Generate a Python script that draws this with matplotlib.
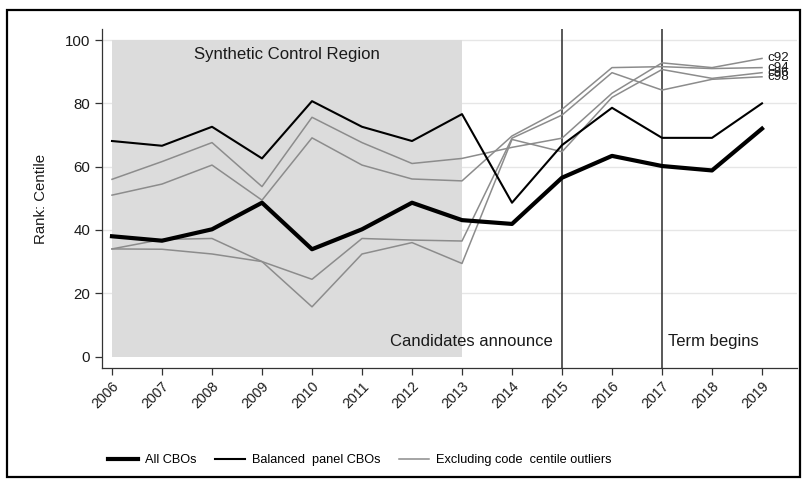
import matplotlib
matplotlib.use("Agg")
import matplotlib.pyplot as plt
from matplotlib.patches import Rectangle
from matplotlib.lines import Line2D

plt.rcParams['font.family'] = ['Liberation Sans', 'DejaVu Sans']

years = list(range(2006, 2020))

all_cbos = [38.0, 36.6, 40.2, 48.6, 33.9, 40.2, 48.6, 43.1, 41.9, 56.5, 63.4, 60.2, 58.8, 72.0]
balanced_cbos = [68.1, 66.6, 72.6, 62.6, 80.7, 72.6, 68.1, 76.6, 48.6, 66.8, 78.6, 69.1, 69.1, 80.0]

c92 = [56.0, 61.6, 67.6, 53.7, 75.6, 67.6, 61.0, 62.6, 66.1, 69.0, 83.2, 92.8, 91.3, 94.2]
c94 = [51.0, 54.5, 60.5, 49.4, 69.1, 60.5, 56.1, 55.5, 69.7, 78.1, 91.3, 91.6, 91.0, 91.3]
c96 = [34.0, 33.9, 32.4, 30.0, 15.7, 32.4, 36.0, 29.4, 68.6, 64.7, 81.9, 90.7, 87.9, 89.7]
c98 = [34.0, 37.0, 37.3, 30.0, 24.4, 37.3, 36.8, 36.5, 69.0, 76.3, 89.7, 84.2, 87.6, 88.4]
outlier_series = {"c92": c92, "c94": c94, "c96": c96, "c98": c98}

synthetic_span = (2006, 2013)
event_years = [2015, 2017]
yticks = [0, 20, 40, 60, 80, 100]

W, H = 806, 480
fig = plt.figure(figsize=(W / 100, H / 100), dpi=100)
ax = fig.add_axes([102 / W, 1 - 368 / H, (797 - 102) / W, (368 - 29) / H])

ax.set_xlim(2005.8, 2019.7)
ax.set_ylim(-3.63, 103.5)

# horizontal grid
for yv in yticks[1:]:
    ax.axhline(yv, color="#e6e6e6", lw=1.0, zorder=0)

# shaded synthetic control window
ax.add_patch(Rectangle((synthetic_span[0], 0), synthetic_span[1] - synthetic_span[0], 100,
                       facecolor="#dcdcdc", edgecolor="none", zorder=1))
ax.text(sum(synthetic_span) / 2, 95.3, "Synthetic Control Region", ha="center", va="center",
        fontsize=12.1, color="#1a1a1a", zorder=5)

for yr in event_years:
    ax.axvline(yr, color="#3c3c3c", lw=1.2, zorder=2)
ax.text(2014.81, 4.9, "Candidates announce", ha="right", va="center", fontsize=12.0,
        color="#1a1a1a", zorder=5)
ax.text(2017.12, 4.9, "Term begins", ha="left", va="center", fontsize=12.0,
        color="#1a1a1a", zorder=5)

grey = "#8c8c8c"
for name, vals in outlier_series.items():
    ax.plot(years, vals, color=grey, lw=1.1, zorder=3)
    ax.annotate(name, (years[-1], vals[-1]), xytext=(4, 0), textcoords="offset points",
                ha="left", va="center", fontsize=9.6, color="#1a1a1a")

ax.plot(years, balanced_cbos, color="black", lw=1.5, zorder=4)
ax.plot(years, all_cbos, color="black", lw=3.0, zorder=4)

ax.set_xticks(years)
ax.set_xticklabels([str(y) for y in years], rotation=45, ha="right", rotation_mode="anchor",
                   fontsize=10.2)
ax.set_yticks(yticks)
ax.set_yticklabels([str(v) for v in yticks], fontsize=10.8)
ax.tick_params(axis="both", direction="out", length=5, width=0.9, color="#333333",
               labelcolor="#1a1a1a")
ax.tick_params(axis="x", pad=3)
ax.set_ylabel("Rank: Centile", fontsize=10.8, color="#1a1a1a", labelpad=12)

for side in ("top", "right"):
    ax.spines[side].set_visible(False)
for side in ("left", "bottom"):
    ax.spines[side].set_color("#333333")
    ax.spines[side].set_linewidth(0.9)

handles = [Line2D([], [], color="black", lw=3.0),
           Line2D([], [], color="black", lw=1.5),
           Line2D([], [], color=grey, lw=1.1)]
labels = ["All CBOs", "Balanced  panel CBOs", "Excluding code  centile outliers"]
fig.legend(handles, labels, loc="center", bbox_to_anchor=(360 / W, 1 - 460 / H), ncol=3,
           frameon=False, fontsize=9.2, handlelength=2.3, handletextpad=0.6,
           columnspacing=1.45, borderaxespad=0)

# outer frame
fig.patches.append(Rectangle((7 / W, 1 - 477 / H), (800 - 7) / W, (477 - 10) / H,
                             transform=fig.transFigure, fill=False, edgecolor="black",
                             lw=1.6))

fig.savefig("out.png", dpi=100)
